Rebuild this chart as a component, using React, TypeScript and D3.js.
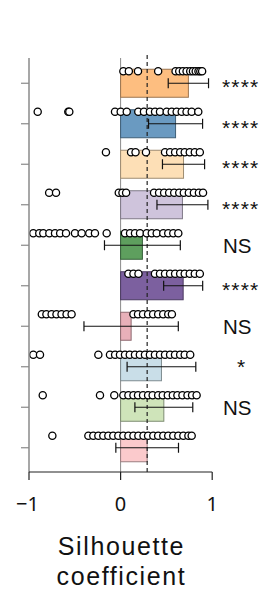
import React from "react";
import * as d3 from "d3";

const categories = ["G1", "G2", "G3", "G4", "G5", "G6", "G7", "G8", "G9", "G10"];
const means = [0.74, 0.6, 0.687, 0.675, 0.238, 0.683, 0.115, 0.446, 0.472, 0.29];
const errors = [0.22, 0.295, 0.23, 0.278, 0.414, 0.213, 0.515, 0.375, 0.316, 0.342];
const significance = ["****", "****", "****", "****", "NS", "****", "NS", "*", "NS", ""];
const fills = ["#FDBE80", "#6A9AC1", "#FDDFB6", "#CFC4DC", "#5E9F5E", "#7C609F", "#E8B0B9", "#C9DEE8", "#CFE4BA", "#FBCACC"];
const strokes = ["#9C7550", "#3F5F78", "#9E8C72", "#7F7987", "#36603A", "#4A3A60", "#8E6A70", "#7E8B90", "#7E8C72", "#9C7E80"];

const dots1 = [0.03, 0.09, 0.19, 0.41, 0.6, 0.64, 0.68, 0.72, 0.76, 0.79, 0.82, 0.85, 0.87, 0.89];
const dots2 = [-0.905, -0.571, -0.56, -0.061, 0.001, 0.067, 0.193, 0.255, 0.32, 0.376, 0.43, 0.503, 0.558, 0.612, 0.667, 0.72, 0.776, 0.848];
const dots3 = [-0.16, 0.114, 0.163, 0.277, 0.485, 0.54, 0.595, 0.65, 0.7, 0.755, 0.81, 0.865];
const dots4 = [-0.78, -0.705, -0.02, 0.02, 0.06, 0.365, 0.42, 0.475, 0.53, 0.585, 0.64, 0.69, 0.745, 0.8, 0.855, 0.9];
const dots5 = [-0.953, -0.888, -0.844, -0.778, -0.716, -0.66, -0.596, -0.498, -0.425, -0.342, -0.28, -0.152, 0.048, 0.103, 0.157, 0.212, 0.285, 0.34, 0.394, 0.466, 0.52, 0.575, 0.63];
const dots6 = [0.085, 0.14, 0.195, 0.375, 0.43, 0.485, 0.54, 0.595, 0.65, 0.7, 0.755, 0.81, 0.865];
const dots7 = [-0.86, -0.81, -0.753, -0.7, -0.645, -0.59, -0.535, 0.14, 0.19, 0.245, 0.3, 0.355, 0.41, 0.465, 0.52, 0.56];
const dots8 = [-0.953, -0.88, -0.243, -0.116, -0.06, -0.007, 0.048, 0.1, 0.157, 0.21, 0.266, 0.32, 0.375, 0.43, 0.485, 0.54, 0.594, 0.65, 0.7, 0.76];
const dots9 = [-0.85, -0.225, -0.069, 0.03, 0.085, 0.14, 0.19, 0.245, 0.3, 0.35, 0.41, 0.46, 0.515, 0.57, 0.62, 0.675, 0.73, 0.78, 0.83];
const dots10 = [-0.745, -0.352, -0.298, -0.243, -0.189, -0.134, -0.08, -0.025, 0.03, 0.085, 0.14, 0.194, 0.25, 0.3, 0.357, 0.41, 0.466, 0.52, 0.575, 0.63, 0.685, 0.74, 0.776];
const dotSets = [dots1, dots2, dots3, dots4, dots5, dots6, dots7, dots8, dots9, dots10];

const xTicks = [-1, 0, 1];
const xTickLabels = ["\u22121", "0", "1"];
const threshold = 0.29;
const axisTitle = ["Silhouette", "coefficient"];

const W = 277;
const H = 590;
const FONT = "'Noto Sans', 'Liberation Sans', Arial, sans-serif";
const SIGFONT = "'Liberation Sans', Arial, sans-serif";

export default function App() {
  const x = d3.scaleLinear().domain([-1, 1]).range([29, 212.2]);
  const y = d3.scalePoint<string>().domain(categories).range([63, 468]).padding(0.5);
  const axisY = 472;
  const topY = 58;
  const barH = 28;

  return (
    <svg width={W} height={H} style={{ position: "absolute", left: 0, top: 0, background: "#fff" }}>
      {/* zero line */}
      <line x1={x(0)} x2={x(0)} y1={topY} y2={axisY} stroke="#8a8a8a" strokeWidth={1} />
      {/* bars */}
      {categories.map((c, i) => {
        const cy = y(c) as number;
        const x0 = x(0);
        const x1 = x(means[i]);
        return (
          <rect key={"b" + c} x={Math.min(x0, x1)} y={cy - barH / 2} width={Math.abs(x1 - x0)} height={barH}
            fill={fills[i]} stroke={strokes[i]} strokeWidth={1} />
        );
      })}
      {/* threshold dashed */}
      <line x1={x(threshold)} x2={x(threshold)} y1={55} y2={axisY} stroke="#222" strokeWidth={1.2} strokeDasharray="4,3" />
      {/* error bars */}
      {categories.map((c, i) => {
        const cy = y(c) as number;
        const lo = x(means[i] - errors[i]);
        const hi = x(means[i] + errors[i]);
        return (
          <g key={"e" + c} stroke="#111" strokeWidth={1.2}>
            <line x1={lo} x2={hi} y1={cy} y2={cy} />
            <line x1={lo} x2={lo} y1={cy - 5} y2={cy + 5} />
            <line x1={hi} x2={hi} y1={cy - 5} y2={cy + 5} />
          </g>
        );
      })}
      {/* dots */}
      {categories.map((c, i) => {
        const cy = (y(c) as number) - 12;
        return (
          <g key={"d" + c}>
            {dotSets[i].map((v, j) => (
              <circle key={j} cx={x(v)} cy={cy} r={3.6} fill="#fff" stroke="#000" strokeWidth={1.3} />
            ))}
          </g>
        );
      })}
      {/* y axis */}
      <line x1={29} x2={29} y1={topY} y2={axisY} stroke="#8a8a8a" strokeWidth={1.5} />
      {categories.map((c) => (
        <line key={"yt" + c} x1={21} x2={29} y1={y(c)} y2={y(c)} stroke="#8a8a8a" strokeWidth={1.2} />
      ))}
      {/* x axis */}
      <line x1={x(-1)} x2={x(1)} y1={axisY} y2={axisY} stroke="#222" strokeWidth={1.2} />
      {xTicks.map((t, i) => (
        <g key={"xt" + t}>
          <line x1={x(t)} x2={x(t)} y1={axisY} y2={axisY + 8} stroke="#222" strokeWidth={1.2} />
          <text x={x(t) - (t < 0 ? 1.5 : 0)} y={510.5} textAnchor="middle" fontFamily={FONT} fontSize={20} fill="#111">
            {xTickLabels[i]}
          </text>
        </g>
      ))}
      {axisTitle.map((s, i) => (
        <text key={s} x={x(0) + 0.8} y={555 + i * 29.5} textAnchor="middle" fontFamily={SIGFONT} fontSize={25}
          letterSpacing={1.6} fill="#111">
          {s}
        </text>
      ))}
      {/* significance labels */}
      {categories.map((c, i) => {
        const cy = y(c) as number;
        const s = significance[i];
        if (!s) return null;
        if (s === "NS") {
          return (
            <text key={"s" + c} x={223} y={cy + 7.5} fontFamily={SIGFONT} fontSize={20.5} fill="#111">{s}</text>
          );
        }
        const isSingle = s.length === 1;
        return (
          <text key={"s" + c} x={isSingle ? 241 : 222} y={cy + (isSingle ? 7.5 : 11)} textAnchor={isSingle ? "middle" : "start"}
            fontFamily={SIGFONT} fontSize={21} letterSpacing={isSingle ? 0 : 1.2} fill="#111">{s}</text>
        );
      })}
    </svg>
  );
}
